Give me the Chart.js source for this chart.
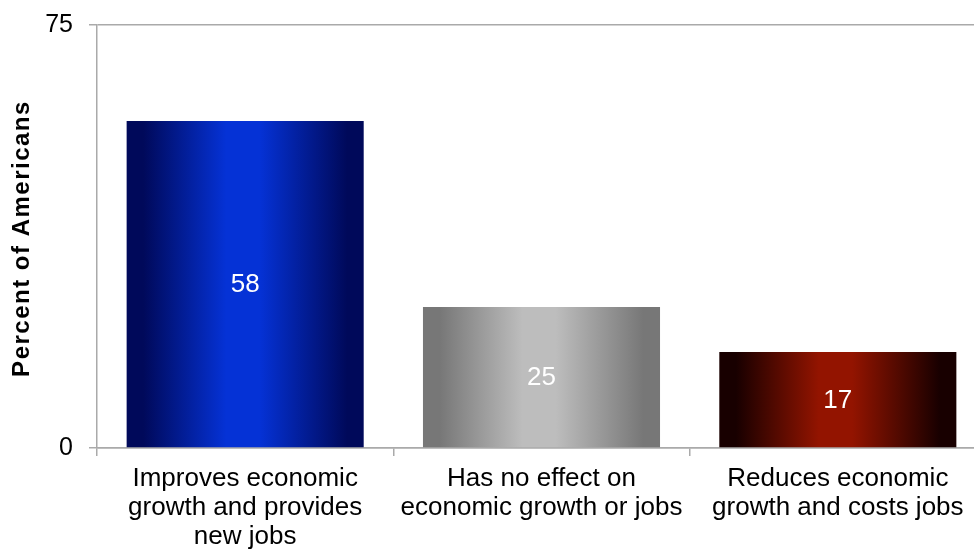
<!DOCTYPE html>
<html>
<head>
<meta charset="utf-8">
<script src="https://cdn.jsdelivr.net/npm/chart.js@4"></script>
<style>
  html, body { margin: 0; padding: 0; background: #fff; overflow: hidden; }
  #wrap { position: relative; top: -6px; width: 990px; height: 558px; }
</style>
</head>
<body>
<div id="wrap"><canvas id="c"></canvas></div>
<script>
// Survey answers and their shares
const categories = [
  ["Improves economic", "growth and provides", "new jobs"],
  ["Has no effect on", "economic growth or jobs"],
  ["Reduces economic", "growth and costs jobs"]
];
const percents = [58, 25, 17];
const yTickValues = [0, 75];
const yTitle = "Percent of Americans";

// Horizontal gradient stops per bar: edge, centre
const barShades = [
  ["#00095a", "#0532d6"],
  ["#777777", "#bdbdbd"],
  ["#180000", "#931400"]
];

const FONT = "'Liberation Sans', Arial, sans-serif";
const AXIS = "#aaaaaa";

// Paints every bar with a left-to-right shaded fill once its position is known
const barGradients = {
  id: "barGradients",
  beforeDatasetsDraw(chart) {
    const c = chart.ctx;
    chart.getDatasetMeta(0).data.forEach((bar, i) => {
      const half = bar.width / 2;
      if (!isFinite(bar.x) || !isFinite(half)) return;
      const [edge, mid] = barShades[i];
      const g = c.createLinearGradient(bar.x - half, 0, bar.x + half, 0);
      g.addColorStop(0, edge);
      g.addColorStop(0.07, edge);
      g.addColorStop(0.42, mid);
      g.addColorStop(0.56, mid);
      g.addColorStop(0.93, edge);
      g.addColorStop(1, edge);
      bar.options.backgroundColor = g;
    });
  }
};

// Writes each value in white at the middle of its bar
const valueLabels = {
  id: "valueLabels",
  afterDatasetsDraw(chart) {
    const c = chart.ctx;
    const meta = chart.getDatasetMeta(0);
    c.save();
    c.font = "26px " + FONT;
    c.fillStyle = "#ffffff";
    c.textAlign = "center";
    c.textBaseline = "middle";
    meta.data.forEach((bar, i) => {
      const mid = (bar.y + bar.base) / 2;
      c.fillText(String(percents[i]), bar.x, mid + 1);
    });
    c.restore();
  }
};

// Rotated, letter-spaced y axis title
const axisTitle = {
  id: "axisTitle",
  afterDraw(chart) {
    const c = chart.ctx;
    const area = chart.chartArea;
    c.save();
    c.translate(22, (area.top + area.bottom) / 2 + 2);
    c.rotate(-Math.PI / 2);
    c.font = "bold 24px " + FONT;
    c.letterSpacing = "1.5px";
    c.fillStyle = "#000";
    c.textAlign = "center";
    c.textBaseline = "middle";
    c.fillText(yTitle, 0, 0);
    c.restore();
  }
};

new Chart(document.getElementById("c"), {
  type: "bar",
  data: {
    labels: categories,
    datasets: [{
      data: percents,
      backgroundColor: (ctx) => barShades[ctx.dataIndex || 0][1],
      borderWidth: 0,
      categoryPercentage: 1.0,
      barPercentage: 0.8
    }]
  },
  options: {
    responsive: true,
    maintainAspectRatio: false,
    animation: false,
    layout: { autoPadding: false, padding: { top: 18, right: 4, left: 0, bottom: 0 } },
    plugins: { legend: { display: false }, tooltip: { enabled: false } },
    scales: {
      y: {
        min: 0,
        max: 75,
        afterBuildTicks(axis) { axis.ticks = yTickValues.map(v => ({ value: v })); },
        afterFit(axis) { axis.width = 97; },
        border: { color: AXIS, width: 1.5 },
        grid: { color: AXIS, lineWidth: 1.5, tickLength: 8, drawTicks: true },
        ticks: { color: "#000", font: { family: FONT, size: 25 }, padding: 16 }
      },
      x: {
        afterFit(axis) { axis.height = 104; },
        border: { color: AXIS, width: 1.5 },
        grid: { display: true, drawOnChartArea: false, color: AXIS, lineWidth: 1.5, tickLength: 8, offset: true },
        ticks: {
          color: "#000",
          font: { family: FONT, size: 26, lineHeight: 1.1 },
          padding: 9,
          maxRotation: 0,
          autoSkip: false
        }
      }
    }
  },
  plugins: [barGradients, valueLabels, axisTitle]
});
</script>
</body>
</html>
